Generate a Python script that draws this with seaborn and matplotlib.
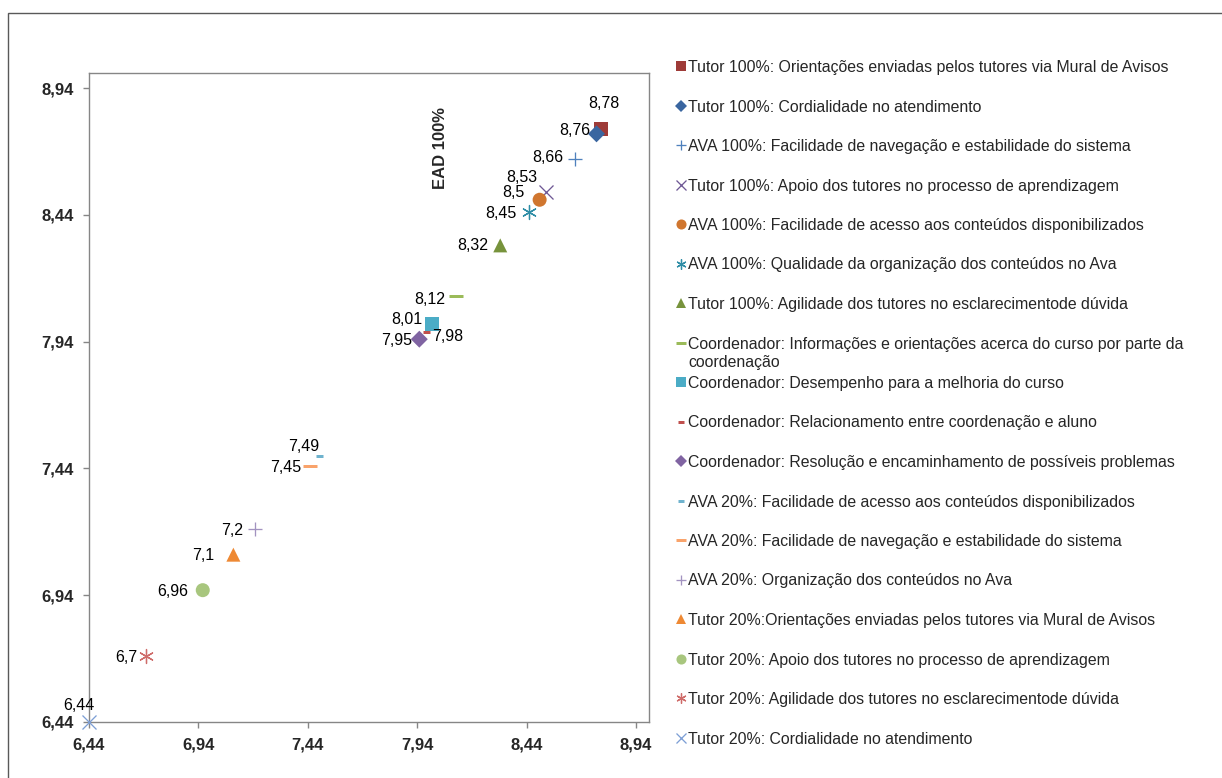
import numpy as np
import pandas as pd
import seaborn as sns
import matplotlib.pyplot as plt
from matplotlib.lines import Line2D
from matplotlib.patches import Rectangle

# dados (x = y = nota média)
series = [
    "Tutor 100%: Orientações enviadas pelos tutores via Mural de Avisos",
    "Tutor 100%: Cordialidade no atendimento",
    "AVA 100%: Facilidade de navegação e estabilidade do sistema",
    "Tutor 100%: Apoio dos tutores no processo de aprendizagem",
    "AVA 100%: Facilidade de acesso aos conteúdos disponibilizados",
    "AVA 100%: Qualidade da organização dos conteúdos no Ava",
    "Tutor 100%: Agilidade dos tutores no esclarecimentode dúvida",
    "Coordenador: Informações e orientações acerca do curso por parte da\ncoordenação",
    "Coordenador: Desempenho para a melhoria do curso",
    "Coordenador: Relacionamento entre coordenação e aluno",
    "Coordenador: Resolução e encaminhamento de possíveis problemas",
    "AVA 20%: Facilidade de acesso aos conteúdos disponibilizados",
    "AVA 20%: Facilidade de navegação e estabilidade do sistema",
    "AVA 20%: Organização dos conteúdos no Ava",
    "Tutor 20%:Orientações enviadas pelos tutores via Mural de Avisos",
    "Tutor 20%: Apoio dos tutores no processo de aprendizagem",
    "Tutor 20%: Agilidade dos tutores no esclarecimentode dúvida",
    "Tutor 20%: Cordialidade no atendimento",
]
values = [8.78, 8.76, 8.66, 8.53, 8.5, 8.45, 8.32, 8.12, 8.01, 7.98, 7.95,
          7.49, 7.45, 7.2, 7.1, 6.96, 6.7, 6.44]
ticks = [6.44, 6.94, 7.44, 7.94, 8.44, 8.94]
tick_labels = ["6,44", "6,94", "7,44", "7,94", "8,44", "8,94"]

df = pd.DataFrame({"serie": series, "x": values, "y": values})

# estilo de cada série: marcador, cor, tamanho (px), espessura
STAR = (6, 2, 0)
styles = [
    ("s", "#9E3B38", 14, 1), ("D", "#3A66A0", 12, 1), ("+", "#4F81BD", 14, 1.3),
    ("x", "#6E5895", 14, 1.3), ("o", "#D0762F", 14, 1), (STAR, "#2E8DA6", 14, 1.3),
    ("^", "#77933C", 14, 1), ("_", "#9BBB59", 14, 3), ("s", "#4BACC6", 14, 1),
    ("_", "#C0504D", 7, 3), ("D", "#8064A2", 12, 1), ("_", "#6FB3CE", 7, 3),
    ("_", "#F9A36B", 14, 3), ("+", "#A293C0", 14, 1.3), ("^", "#EE8934", 14, 1),
    ("o", "#A8C67E", 14, 1), (STAR, "#CF6C6A", 14, 1.3), ("x", "#7E9FD5", 14, 1.3),
]
# posição dos rótulos (dx, dy em pixels, alinhamento)
label_pos = [
    (3, 25, "center"), (-6, 3, "right"), (-11, 2, "right"), (-24, 15, "center"),
    (-15, 7, "right"), (-12, -1, "right"), (-12, 0, "right"), (-11, -3, "right"),
    (-10, 4, "right"), (6, -5, "left"), (-7, -1, "right"), (-15, 9, "center"),
    (-9, -2, "right"), (-12, -1, "right"), (-19, -1, "right"), (-15, -1, "right"),
    (-8, -1, "right"), (-10, 16, "center"),
]

sns.set_style("white")
plt.rcParams["font.family"] = ["Liberation Sans", "DejaVu Sans"]

W, H = 1222, 778
fig = plt.figure(figsize=(W / 100, H / 100), dpi=100)
ax = fig.add_axes([89 / W, 1 - 722 / H, 560 / W, 649 / H])

PX = 0.72  # pt por pixel
for i, row in df.iterrows():
    m, c, sz, lw = styles[i]
    filled = m in ("s", "D", "o", "^")
    sns.scatterplot(x=[row.x], y=[row.y], ax=ax, marker=m, color=c,
                    s=(sz * PX) ** 2, linewidth=0 if filled else lw * PX,
                    edgecolor=c if not filled else "none", clip_on=False, zorder=3)
    dx, dy, ha = label_pos[i]
    ax.annotate(f"{row.y:g}".replace(".", ","), (row.x, row.y), xytext=(dx, dy),
                textcoords="offset pixels", ha=ha, va="center", fontsize=11.5,
                color="black")

ax.set_xlim(6.44, 9.0)
ax.set_ylim(6.44, 9.0)
ax.set_xticks(ticks, tick_labels)
ax.set_yticks(ticks, tick_labels)
ax.set_xlabel("")
ax.set_ylabel("")
for lab in ax.get_xticklabels() + ax.get_yticklabels():
    lab.set_fontweight("bold")
    lab.set_fontsize(12)
ax.tick_params(axis="both", direction="out", length=4, width=1, color="#868686",
               pad=7, bottom=True, left=True)
for sp in ax.spines.values():
    sp.set_color("#868686")
    sp.set_linewidth(1)

ax.text(0.627, 0.885, "EAD 100%", transform=ax.transAxes, rotation=90,
        ha="center", va="center", fontsize=12, fontweight="bold")

# legenda manual (uma entrada a cada ~39,5 px)
for i, name in enumerate(series):
    m, c, sz, lw = styles[i]
    y = 1 - (66 + 39.5 * i) / H
    filled = m in ("s", "D", "o", "^")
    msz = sz * 0.72 * PX
    fig.add_artist(Line2D([681 / W], [y], transform=fig.transFigure, marker=m,
                          markersize=msz, color=c, markeredgewidth=0 if filled else lw * PX,
                          linestyle="none"))
    fig.text(688 / W, y + 6 / H, name, ha="left", va="top", fontsize=11.4,
             linespacing=1.25)

fig.add_artist(Rectangle((8 / W, -0.05), 1.2, 1 - 13 / H + 0.05,
                         transform=fig.transFigure, fill=False, edgecolor="#595959",
                         linewidth=1))

plt.savefig("out.png", dpi=100)
